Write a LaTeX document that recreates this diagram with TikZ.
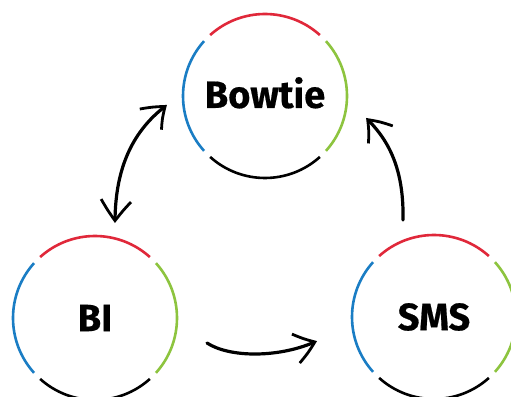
\documentclass[tikz,border=0pt]{standalone}
\usepackage{fontspec}
\setmainfont{Fira Sans}[BoldFeatures={FakeBold=0.5}]
\usetikzlibrary{arrows.meta,bending}
\definecolor{cred}{HTML}{E0283A}
\definecolor{cgreen}{HTML}{8DC43F}
\definecolor{cblue}{HTML}{1A7DC4}
\begin{document}
\begin{tikzpicture}[x=1pt,y=1pt]
\useasboundingbox (0,0) rectangle (511,396);
\tikzset{
  ring/.style={circle, minimum size=164pt, inner sep=0pt, outer sep=0pt,
    font=\fontsize{38}{40}\selectfont\bfseries},
  seg/.style={line width=2.6pt},
  tipb/.tip={Straight Barb[length=20pt,width=30pt,line width=2.8pt,bend]},
  flow/.style={line width=3.2pt, line cap=round, -tipb},
  flowboth/.style={line width=3.2pt, line cap=round, tipb-tipb}
}
\node[ring] (bow) at (265,300) {\raisebox{7pt}{Bowtie}};
\node[ring] (bi) at (95,78) {BI};
\node[ring] (sms) at (434,79) {SMS};
\foreach \n in {bow,bi,sms}{
  \draw[seg,cred]   (\n.48)  arc[start angle=48,  end angle=132, radius=82pt];
  \draw[seg,cblue]  (\n.138) arc[start angle=138, end angle=222, radius=82pt];
  \draw[seg,black]  (\n.228) arc[start angle=228, end angle=312, radius=82pt];
  \draw[seg,cgreen] (\n.318) arc[start angle=318, end angle=402, radius=82pt];
}
\coordinate (a1s) at (115,173);
\coordinate (a1e) at (167,291);
\coordinate (a2s) at (207,53);
\coordinate (a2e) at (317,55);
\coordinate (a3s) at (403,176);
\coordinate (a3e) at (366,278);
\draw[flowboth] (a1s) .. controls (115,215) and (125,260) .. (a1e);
\draw[flow] (a2s) .. controls (230,38) and (280,38) .. (a2e);
\draw[flow] (a3s) .. controls (404,225) and (390,255) .. (a3e);
\end{tikzpicture}
\end{document}
